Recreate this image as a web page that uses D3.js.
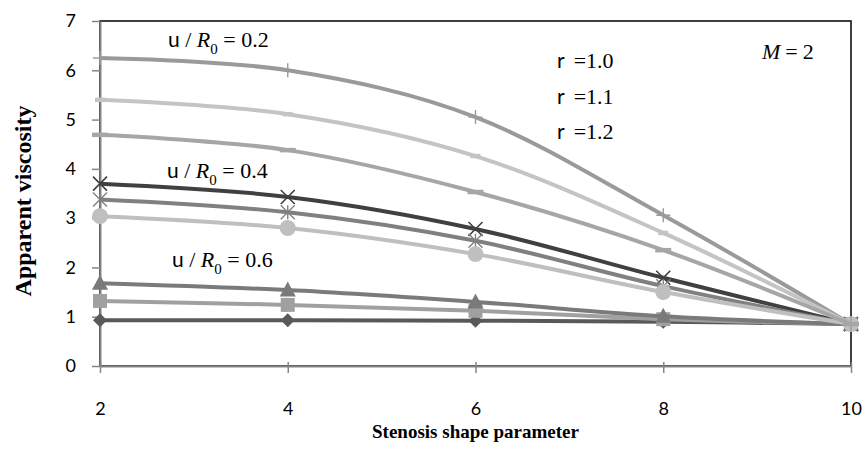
<!DOCTYPE html>
<html lang="en">
<head>
  <meta charset="UTF-8">
  <title>Apparent viscosity vs stenosis shape parameter</title>
  <script src="https://d3js.org/d3.v7.min.js"></script>
  <style>
    body {
      margin: 0;
      padding: 0;
      background-color: #fff;
    }
    .tick text {
      font-family: 'Lato', 'Liberation Sans', sans-serif;
      font-size: 18px;
      fill: #000;
    }
    .axis-title {
      font-family: 'Liberation Serif', serif;
      font-weight: bold;
      font-size: 18px;
    }
    .note {
      font-family: 'Liberation Serif', serif;
      font-size: 22px;
    }
    .note .sans {
      font-family: 'Lato', 'DejaVu Sans', sans-serif;
      font-size: 21px;
    }
  </style>
</head>
<body>
  <div id="chart"></div>

  <script>
    // x categories and y ticks
    const shapeParams = [2, 4, 6, 8, 10];
    const yTicks = [0, 1, 2, 3, 4, 5, 6, 7];

    // u/R0 = 0.6 group
    const diamondVals = [0.93, 0.93, 0.92, 0.90, 0.85];
    const squareVals = [1.32, 1.24, 1.12, 0.95, 0.85];
    const triangleVals = [1.68, 1.54, 1.30, 1.01, 0.85];
    // u/R0 = 0.4 group
    const crossVals = [3.70, 3.43, 2.78, 1.79, 0.85];
    const starVals = [3.38, 3.12, 2.54, 1.62, 0.85];
    const circleVals = [3.04, 2.80, 2.27, 1.50, 0.85];
    // u/R0 = 0.2 group
    const plusVals = [6.25, 6.00, 5.05, 3.06, 0.85];
    const shortDashVals = [5.40, 5.11, 4.26, 2.70, 0.85];
    const longDashVals = [4.69, 4.38, 3.53, 2.35, 0.85];

    const series = [
      { name: "diamond", values: diamondVals, color: "#595959" },
      { name: "square", values: squareVals, color: "#a0a0a0" },
      { name: "triangle", values: triangleVals, color: "#7a7a7a" },
      { name: "cross", values: crossVals, color: "#404040" },
      { name: "star", values: starVals, color: "#808080" },
      { name: "circle", values: circleVals, color: "#bfbfbf" },
      { name: "plus", values: plusVals, color: "#9a9a9a" },
      { name: "shortdash", values: shortDashVals, color: "#c4c4c4" },
      { name: "longdash", values: longDashVals, color: "#a6a6a6" }
    ];

    const width = 867, height = 450;
    const margin = { top: 21, right: 16, bottom: 84, left: 100 };

    const svg = d3.select("#chart")
      .append("svg")
      .attr("width", width)
      .attr("height", height);

    const x = d3.scaleLinear()
      .domain([2, 10])
      .range([margin.left, width - margin.right]);

    const y = d3.scaleLinear()
      .domain([0, 7])
      .range([height - margin.bottom, margin.top]);

    // plot area border (top / right black)
    svg.append("rect")
      .attr("x", x(2))
      .attr("y", y(7))
      .attr("width", x(10) - x(2))
      .attr("height", y(0) - y(7))
      .attr("fill", "none")
      .attr("stroke", "#000")
      .attr("stroke-width", 1.5);

    const yAxis = svg.append("g")
      .attr("transform", `translate(${x(2)},0)`)
      .call(d3.axisLeft(y).tickValues(yTicks).tickFormat(d3.format("d"))
        .tickSize(8).tickSizeOuter(0).tickPadding(16));
    yAxis.select(".domain").attr("stroke", "#868686").attr("stroke-width", 2);
    yAxis.selectAll(".tick line").attr("stroke", "#868686").attr("stroke-width", 1.5);

    const xAxis = svg.append("g")
      .attr("transform", `translate(0,${y(0)})`)
      .call(d3.axisBottom(x).tickValues(shapeParams).tickSize(7).tickSizeOuter(0).tickPadding(29));
    xAxis.select(".domain").attr("stroke", "#868686").attr("stroke-width", 2);
    xAxis.selectAll(".tick line").attr("y1", -4).attr("stroke", "#868686").attr("stroke-width", 1.5);

    svg.append("text")
      .attr("class", "axis-title")
      .attr("x", (x(2) + x(10)) / 2)
      .attr("y", 438)
      .attr("text-anchor", "middle")
      .style("font-size", "19px")
      .text("Stenosis shape parameter");

    svg.append("text")
      .attr("class", "axis-title")
      .style("font-size", "24px")
      .attr("transform", `translate(31,201) rotate(-90)`)
      .attr("text-anchor", "middle")
      .text("Apparent viscosity");

    const line = d3.line()
      .x((d, i) => x(shapeParams[i]))
      .y(d => y(d))
      .curve(d3.curveCardinal.tension(0));

    function markerPath(name) {
      switch (name) {
        case "diamond": return "M0,-7L7,0L0,7L-7,0Z";
        case "square": return "M-7,-7H7V7H-7Z";
        case "triangle": return "M0,-8.5L8,6.5H-8Z";
        case "cross": return "M-7,-7L7,7M7,-7L-7,7";
        case "star": return "M-7,-7L7,7M7,-7L-7,7M0,-7V7";
        case "circle": return d3.symbol(d3.symbolCircle, 200)();
        case "plus": return "M-7,0H7M0,-7V7";
        case "shortdash": return "M-5,0H5";
        case "longdash": return "M-8,0H8";
      }
    }

    const stroked = { cross: 1.6, star: 1.4, plus: 1.4, shortdash: 4.5, longdash: 4.5 };

    series.forEach(s => {
      const g = svg.append("g");
      g.append("path")
        .datum(s.values)
        .attr("fill", "none")
        .attr("stroke", s.color)
        .attr("stroke-width", 4)
        .attr("d", line);

      g.selectAll("path.marker")
        .data(s.values)
        .enter()
        .append("path")
        .attr("class", "marker")
        .attr("transform", (d, i) => `translate(${x(shapeParams[i])},${y(d)})`)
        .attr("d", markerPath(s.name))
        .attr("fill", stroked[s.name] ? "none" : s.color)
        .attr("stroke", s.color)
        .attr("stroke-width", stroked[s.name] || 0);
    });

    // annotations
    function ratioLabel(xPos, yPos, value) {
      const t = svg.append("text").attr("class", "note").attr("x", xPos).attr("y", yPos);
      t.append("tspan").attr("class", "sans").text("u");
      t.append("tspan").text(" / ");
      t.append("tspan").attr("font-style", "italic").text("R");
      t.append("tspan").attr("font-size", 15).attr("dy", 7).text("0");
      t.append("tspan").attr("dy", -7).text(" = " + value);
    }
    ratioLabel(168, 47, "0.2");
    ratioLabel(167, 178, "0.4");
    ratioLabel(172, 267, "0.6");

    const gammaLabels = ["1.0", "1.1", "1.2"];
    gammaLabels.forEach((v, i) => {
      const t = svg.append("text").attr("class", "note").attr("x", 557).attr("y", 68 + i * 35.5);
      t.append("tspan").attr("class", "sans").text("r");
      t.append("tspan").attr("dx", 9).text("=" + v);
    });

    const m = svg.append("text").attr("class", "note").attr("x", 762).attr("y", 59);
    m.append("tspan").attr("font-style", "italic").text("M");
    m.append("tspan").attr("dx", 5).text("=");
    m.append("tspan").attr("dx", 5).text("2");
  </script>
</body>
</html>
